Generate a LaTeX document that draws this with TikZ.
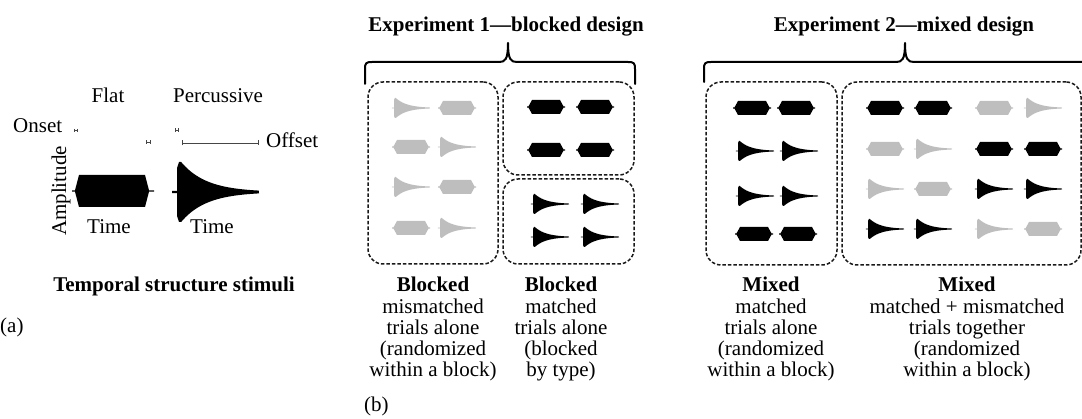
\documentclass[tikz,border=0pt]{standalone}
\usepackage{fontspec}
\setmainfont{Liberation Serif}
\usetikzlibrary{arrows.meta}

\definecolor{stimgray}{RGB}{190,190,190}
\definecolor{boxline}{RGB}{25,25,25}
\definecolor{rulegray}{RGB}{70,70,70}

\tikzset{
  % flat (constant amplitude) envelope, 38 units wide, centred on the origin
  pics/flatwave/.style={code={
    \fill[#1] (-19,-0.6) -- (-17.5,-0.6) -- (-14,-7) -- (14,-7) -- (17.5,-0.6)
      -- (19,-0.6) -- (19,0.6) -- (17.5,0.6) -- (14,7) -- (-14,7)
      -- (-17.5,0.6) -- (-19,0.6) -- cycle;
  }},
  % percussive envelope: attack at the origin, exponential decay to x=1
  pics/percwave/.style={code={
    \fill[#1] (-0.06,-0.035) -- (0,-0.035) -- (0,-0.8) -- (0.025,-1)
      -- plot[domain=0.05:1,samples=50] (\x,{-max(exp(-(\x-0.05)/0.31),0.035)})
      -- plot[domain=1:0.05,samples=50] (\x,{max(exp(-(\x-0.05)/0.31),0.035)})
      -- (0.025,1) -- (0,0.8) -- (0,0.035) -- (-0.06,0.035) -- cycle;
  }},
  % short onset interval |-|
  pics/onsetmark/.style={code={
    \draw[rulegray, line width=0.7pt] (-1.8,0) -- (1.8,0);
    \draw[rulegray, line width=0.7pt] (-1.8,-1.6) -- (-1.8,1.6);
    \draw[rulegray, line width=0.7pt] (1.8,-1.6) -- (1.8,1.6);
  }},
  smallperc/.style={xscale=36,yscale=10},
  lbl/.style={font=\fontsize{21}{21.3}\selectfont, inner sep=0pt},
  hd/.style={font=\fontsize{21}{21.3}\selectfont\bfseries, inner sep=0pt},
  cond/.style={lbl, align=center, anchor=base},
  trialbox/.style={draw=boxline, line width=1.5pt, dash pattern=on 3.5pt off 2pt,
    rounded corners=15pt, inner sep=0pt},
  curly/.style={line width=2pt, line join=round, line cap=round},
}

\begin{document}
\begin{tikzpicture}[x=1pt,y=-1pt]
\useasboundingbox (0,0) rectangle (1082,419);

% ---------------- (a) temporal structure stimuli ----------------
\node[lbl, anchor=base] (flat) at (108,103) {Flat};
\node[lbl, anchor=base] (perc) at (218,103) {Percussive};
\node[lbl, anchor=base west] (onset) at (13,133) {Onset};
\node[lbl, anchor=base west] (offset) at (266,148) {Offset};
\node[lbl, anchor=base, rotate=90] (amp) at (66,191) {Amplitude};
\node[lbl, anchor=base] (time1) at (109,234) {Time};
\node[lbl, anchor=base] (time2) at (212,234) {Time};
\node[hd, anchor=base] (tss) at (174,292) {Temporal structure stimuli};
\node[lbl, anchor=base west] (pa) at (0,333) {(a)};

% onset / offset intervals
\pic at (75.7,130.5) {onsetmark};
\pic at (148.5,142) {onsetmark};
\pic at (177,130) {onsetmark};
\coordinate (offa) at (182,143);
\coordinate (offb) at (259,143);
\draw[draw=rulegray, line width=0.9pt, {Bar[width=5pt]}-{Bar[width=5pt]}] (offa) -- (offb);

% large flat envelope
\fill (72,190.3) -- (75,190.3) -- (79,175) -- (145,175) -- (149,190.3) -- (154,190.3)
  -- (154,191.7) -- (149,191.7) -- (145,207) -- (79,207) -- (75,191.7) -- (72,191.7) -- cycle;
% large percussive envelope
\pic[xscale=82,yscale=30] at (177,192) {percwave=black};

% ---------------- (b) experiment designs ----------------
\node[hd, anchor=base] (exp1) at (506,32) {Experiment 1—blocked design};
\node[hd, anchor=base] (exp2) at (904,32) {Experiment 2—mixed design};

\draw[curly] (365,84) -- (365,69) .. controls (365,63) and (366,62) .. (372,62)
  -- (499,62) .. controls (505,62) and (508,60) .. (508,43)
  .. controls (508,60) and (511,62) .. (517,62) -- (628,62)
  .. controls (634,62) and (635,63) .. (635,69) -- (635,84);
\draw[curly] (704,82) -- (704,69) .. controls (704,63) and (705,62) .. (711,62)
  -- (896,62) .. controls (902,62) and (905,60) .. (905,43)
  .. controls (905,60) and (908,62) .. (914,62) -- (1099,62)
  .. controls (1105,62) and (1106,63) .. (1106,69) -- (1106,82);

% dashed trial blocks
\node[trialbox, minimum width=130pt, minimum height=182pt] (boxA) at (433,173) {};
\node[trialbox, minimum width=131pt, minimum height=93pt] (boxB) at (568.5,128.5) {};
\node[trialbox, minimum width=131pt, minimum height=85pt] (boxC) at (568.5,221.5) {};
\node[trialbox, minimum width=131pt, minimum height=183pt] (boxD) at (771.5,173.5) {};
\node[trialbox, minimum width=239pt, minimum height=183pt] (boxE) at (961.5,173.5) {};

% block A: mismatched pairs
\pic[smallperc] at (394,108) {percwave=stimgray};  \pic at (457,108) {flatwave=stimgray};
\pic at (411,147) {flatwave=stimgray};  \pic[smallperc] at (440,147) {percwave=stimgray};
\pic[smallperc] at (394,187) {percwave=stimgray};  \pic at (457,187) {flatwave=stimgray};
\pic at (411,228) {flatwave=stimgray};  \pic[smallperc] at (440,228) {percwave=stimgray};

% block B: matched flat pairs
\pic at (546,107) {flatwave=black};  \pic at (595,107) {flatwave=black};
\pic at (546,150) {flatwave=black};  \pic at (595,150) {flatwave=black};

% block C: matched percussive pairs
\pic[smallperc] at (533,204) {percwave=black};  \pic[smallperc] at (583,204) {percwave=black};
\pic[smallperc] at (533,237) {percwave=black};  \pic[smallperc] at (583,237) {percwave=black};

% block D: matched pairs, mixed order
\pic at (752,108) {flatwave=black};  \pic at (796,108) {flatwave=black};
\pic[smallperc] at (738,151) {percwave=black};  \pic[smallperc] at (782,151) {percwave=black};
\pic[smallperc] at (738,196) {percwave=black};  \pic[smallperc] at (782,196) {percwave=black};
\pic at (754,234) {flatwave=black};  \pic at (798,234) {flatwave=black};

% block E: matched and mismatched pairs together
\pic at (885,108) {flatwave=black};  \pic at (933,108) {flatwave=black};
\pic at (994,108) {flatwave=stimgray};  \pic[smallperc] at (1026,108) {percwave=stimgray};
\pic at (885,149) {flatwave=stimgray};  \pic[smallperc] at (916,149) {percwave=stimgray};
\pic at (994,149) {flatwave=black};  \pic at (1043,149) {flatwave=black};
\pic[smallperc] at (868,189) {percwave=stimgray};  \pic at (933,189) {flatwave=stimgray};
\pic[smallperc] at (977,189) {percwave=black};  \pic[smallperc] at (1026,189) {percwave=black};
\pic[smallperc] at (868,229) {percwave=black};  \pic[smallperc] at (916,229) {percwave=black};
\pic[smallperc] at (977,229) {percwave=stimgray};  \pic at (1043,229) {flatwave=stimgray};

% condition captions (anchored on the baseline of their last line)
\node[cond] (labA) at (433,377) {\textbf{Blocked}\\mismatched\\trials alone\\(randomized\\within a block)};
\node[cond] (labB) at (561,377) {\textbf{Blocked}\\matched\\trials alone\\(blocked\\by type)};
\node[cond] (labD) at (771,377) {\textbf{Mixed}\\matched\\trials alone\\(randomized\\within a block)};
\node[cond] (labE) at (967,377) {\textbf{Mixed}\\matched + mismatched\\trials together\\(randomized\\within a block)};
\node[lbl, anchor=base west] (pb) at (364,412) {(b)};
\end{tikzpicture}
\end{document}
